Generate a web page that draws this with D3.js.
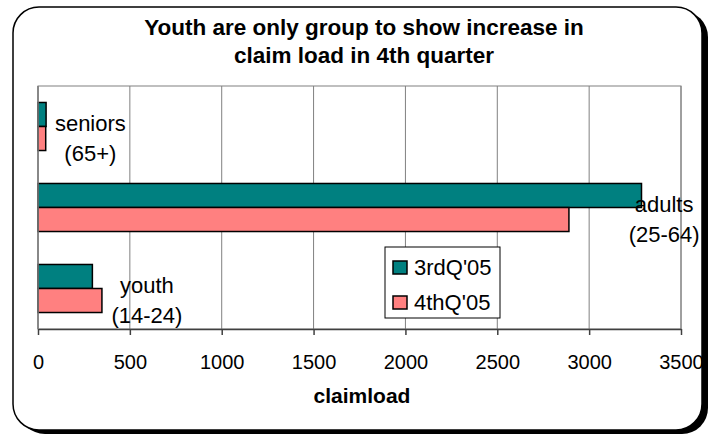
<!DOCTYPE html>
<html>
<head>
<meta charset="utf-8">
<script src="https://cdn.jsdelivr.net/npm/d3@7"></script>
<style>
  body { margin: 0; background: #fff; }
  text { font-family: "Liberation Sans", Arial, sans-serif; }
</style>
</head>
<body>
<div id="container"></div>
<script>
/* CONSTANTS AND GLOBALS */
const width = 714,
  height = 434,
  margin = { top: 86, bottom: 105, left: 38, right: 33 }

/* DATA */
const groups = ["seniors", "adults", "youth"]
const groupLines = [["seniors", "(65+)"], ["adults", "(25-64)"], ["youth", "(14-24)"]]
const series = ["3rdQ'05", "4thQ'05"]
const q3 = [44, 3285, 296]
const q4 = [42, 2890, 348]
const xTicks = [0, 500, 1000, 1500, 2000, 2500, 3000, 3500]
const colors = ["#008080", "#FF8080"]

// where the category text sits, in claimload units
const labelAt = [285, 3408, 593]

const data = groups.map((g, i) => ({ group: g, values: [q3[i], q4[i]] }))

/* SVG */
const svg = d3.select("#container")
  .append("svg")
  .attr("width", width)
  .attr("height", height)

// outer frame with shadow
svg.append("rect")
  .attr("x", 19).attr("y", 11)
  .attr("width", 689).attr("height", 423)
  .attr("rx", 26)
  .attr("fill", "#000")
svg.append("rect")
  .attr("x", 13).attr("y", 7)
  .attr("width", 689).attr("height", 423)
  .attr("rx", 26)
  .attr("fill", "#fff")
  .attr("stroke", "#000")
  .attr("stroke-width", 1.5)

// title
svg.append("text")
  .attr("x", 364).attr("y", 35)
  .attr("text-anchor", "middle")
  .attr("font-size", 22.5).attr("font-weight", "bold")
  .text("Youth are only group to show increase in")
svg.append("text")
  .attr("x", 364).attr("y", 63)
  .attr("text-anchor", "middle")
  .attr("font-size", 22.5).attr("font-weight", "bold")
  .text("claim load in 4th quarter")

/* SCALES */
const xScale = d3.scaleLinear()
  .domain([0, 3500])
  .range([margin.left, width - margin.right])

const yScale = d3.scaleBand()
  .domain(groups)
  .range([margin.top, height - margin.bottom])
  .paddingInner(0.407)
  .paddingOuter(0.2035)

const ySub = d3.scaleBand()
  .domain(series)
  .range([0, yScale.bandwidth()])

// plot border (top/right)
svg.append("rect")
  .attr("x", xScale(0)).attr("y", margin.top)
  .attr("width", xScale(3500) - xScale(0))
  .attr("height", height - margin.bottom - margin.top)
  .attr("fill", "none")
  .attr("stroke", "#808080")
  .attr("stroke-width", 1)

// grid lines
svg.selectAll(".grid")
  .data(xTicks)
  .join("line")
  .attr("class", "grid")
  .attr("x1", d => xScale(d)).attr("x2", d => xScale(d))
  .attr("y1", margin.top).attr("y2", height - margin.bottom)
  .attr("stroke", "#808080")
  .attr("stroke-width", 1)

// bars
const g = svg.selectAll(".grp")
  .data(data)
  .join("g")
  .attr("class", "grp")
  .attr("transform", d => `translate(0, ${yScale(d.group)})`)

g.selectAll("rect")
  .data(d => d.values.map((v, i) => ({ key: series[i], value: v, i })))
  .join("rect")
  .attr("x", xScale(0))
  .attr("y", d => ySub(d.key))
  .attr("width", d => xScale(d.value) - xScale(0))
  .attr("height", ySub.bandwidth())
  .attr("fill", d => colors[d.i])
  .attr("stroke", "#000")
  .attr("stroke-width", 1.5)

// x axis
const xAxis = d3.axisBottom(xScale)
  .tickValues(xTicks)
  .tickSize(6)
  .tickSizeOuter(0)
  .tickFormat(d3.format("d"))

const xAxisGroup = svg.append("g")
  .attr("transform", `translate(0, ${height - margin.bottom})`)
  .call(xAxis)
xAxisGroup.select(".domain").attr("stroke", "#404040").attr("stroke-width", 1.5)
xAxisGroup.selectAll(".tick line").attr("stroke", "#404040").attr("stroke-width", 1.5)
xAxisGroup.selectAll(".tick text")
  .attr("y", 40).attr("dy", 0)
  .attr("font-size", 20)
  .attr("font-family", "Liberation Sans, Arial, sans-serif")
  .attr("fill", "#000")

// left axis line
svg.append("line")
  .attr("x1", xScale(0)).attr("x2", xScale(0))
  .attr("y1", margin.top).attr("y2", height - margin.bottom)
  .attr("stroke", "#808080").attr("stroke-width", 1.5)

svg.append("text")
  .attr("x", 362).attr("y", 403)
  .attr("text-anchor", "middle")
  .attr("font-size", 21).attr("font-weight", "bold")
  .text("claimload")

// category labels
groups.forEach((grp, i) => {
  const cy = yScale(grp) + yScale.bandwidth() / 2
  groupLines[i].forEach((line, j) => {
    svg.append("text")
      .attr("x", xScale(labelAt[i]))
      .attr("y", cy + 4 + j * 30)
      .attr("text-anchor", "middle")
      .attr("font-size", 22)
      .text(line)
  })
})

// legend
const legend = svg.append("g").attr("transform", "translate(385, 247)")
legend.append("rect")
  .attr("width", 115).attr("height", 71)
  .attr("fill", "#fff").attr("stroke", "#000").attr("stroke-width", 1)
series.forEach((s, i) => {
  legend.append("rect")
    .attr("x", 8).attr("y", 14 + i * 35)
    .attr("width", 14).attr("height", 13)
    .attr("fill", colors[i]).attr("stroke", "#000").attr("stroke-width", 1.5)
  legend.append("text")
    .attr("x", 29).attr("y", 28 + i * 35)
    .attr("font-size", 22)
    .text(s)
})
</script>
</body>
</html>
